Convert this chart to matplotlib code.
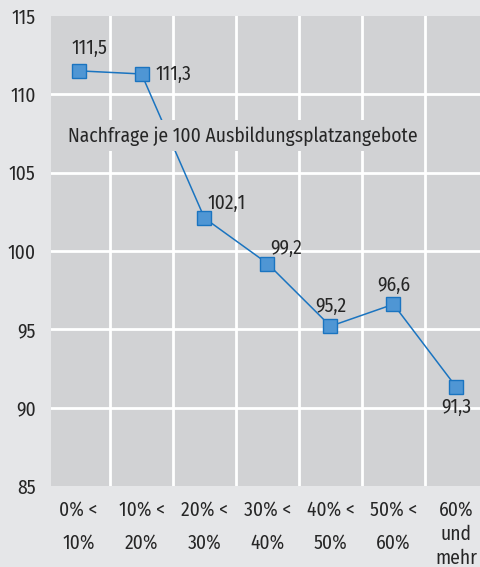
import matplotlib
matplotlib.use("Agg")
import matplotlib.pyplot as plt

# Data
CATEGORIES = ["0% <\n10%", "10% <\n20%", "20% <\n30%", "30% <\n40%",
              "40% <\n50%", "50% <\n60%", "60%\nund\nmehr"]
VALUES = [111.5, 111.3, 102.1, 99.2, 95.2, 96.6, 91.3]
VALUE_LABELS = ["111,5", "111,3", "102,1", "99,2", "95,2", "96,6", "91,3"]
Y_TICKS = [85, 90, 95, 100, 105, 110, 115]
SERIES_NAME = "Nachfrage je 100 Ausbildungsplatzangebote"

OUTER_BG = "#e5e6e8"
PLOT_BG = "#d1d2d4"
LINE_COLOR = "#1a74c0"
MARKER_FACE = "#4f96d4"
TEXT_COLOR = "#262626"

plt.rcParams["font.family"] = ["Fira Sans Condensed", "DejaVu Sans"]
plt.rcParams["font.size"] = 14


def main():
    fig = plt.figure(figsize=(4.81, 5.67), dpi=100, facecolor=OUTER_BG)
    ax = fig.add_axes([51 / 481, 81 / 567, 430 / 481, 470 / 567])
    ax.set_facecolor(PLOT_BG)

    xs = list(range(len(VALUES)))
    ax.set_xlim(-0.437, 6.39)
    ax.set_ylim(85, 115)

    # grid: horizontal at ticks, vertical between categories
    for y in Y_TICKS[1:-1]:
        ax.axhline(y, color="white", lw=2, zorder=1)
    for i in range(len(CATEGORIES) - 1):
        ax.axvline(i + 0.5, color="white", lw=2, zorder=1)

    ax.plot(xs, VALUES, color=LINE_COLOR, lw=1.1, marker="s", markersize=10,
            markerfacecolor=MARKER_FACE, markeredgecolor=LINE_COLOR,
            markeredgewidth=1, zorder=3)

    # value labels (offsets in points)
    offsets = [(-5, 9, "left", "bottom"), (10, 0, "left", "center"),
               (2, 4, "left", "bottom"), (2, 4, "left", "bottom"),
               (0, 7, "center", "bottom"), (0, 7, "center", "bottom"),
               (0, -7, "center", "top")]
    for x, v, lab, (dx, dy, ha, va) in zip(xs, VALUES, VALUE_LABELS, offsets):
        ax.annotate(lab, (x, v), xytext=(dx, dy), textcoords="offset points",
                    ha=ha, va=va, color=TEXT_COLOR, zorder=4)

    ax.text(-0.17, 107.35, SERIES_NAME, ha="left", va="center", color=TEXT_COLOR,
            zorder=5, bbox=dict(boxstyle="square,pad=0.3", fc=PLOT_BG, ec="none"))

    ax.set_yticks(Y_TICKS)
    ax.set_xticks(xs)
    ax.set_xticklabels(CATEGORIES, color=TEXT_COLOR, linespacing=1.9, va="top")
    ax.get_xticklabels()[-1].set_linespacing(1.3)
    ax.tick_params(axis="x", length=0, pad=10)
    ax.tick_params(axis="y", length=0, pad=11, labelcolor=TEXT_COLOR)
    for s in ax.spines.values():
        s.set_visible(False)

    fig.savefig("out.png", dpi=100, facecolor=OUTER_BG)


if __name__ == "__main__":
    main()
